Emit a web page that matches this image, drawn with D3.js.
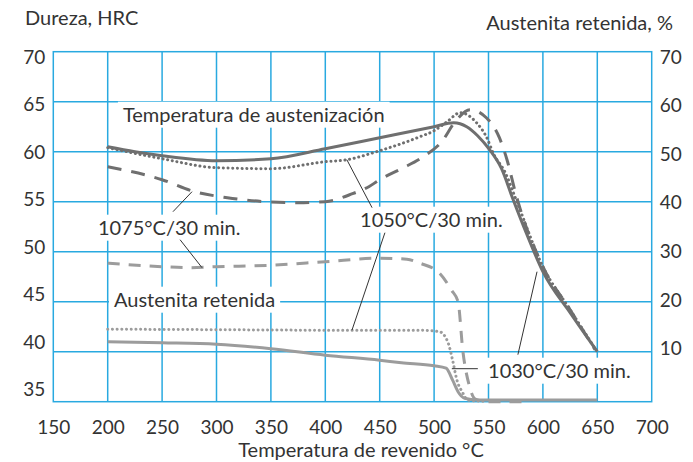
<!DOCTYPE html>
<html>
<head>
<meta charset="utf-8">
<script src="https://cdn.jsdelivr.net/npm/d3@7"></script>
<style>
  body { margin: 0; background: #fff; }
  text { font-family: Lato, "Open Sans", sans-serif; fill: #333; }
</style>
</head>
<body>
<svg id="chart" width="693" height="462"></svg>
<script>
// ticks
var xTicks = [150, 200, 250, 300, 350, 400, 450, 500, 550, 600, 650, 700];
var hrcTicks = [35, 40, 45, 50, 55, 60, 65, 70];
var raTicks = [10, 20, 30, 40, 50, 60, 70];

// hardness (HRC) vs tempering temperature, one list per austenitizing temp
var hrc1030 = [[200,60.5],[225,60.0],[250,59.6],[300,59.1],[350,59.3],[400,60.3],[450,61.4],[500,62.5],[518,62.9],[530,62.5],[540,61.6],[551,60.2],[562,58.3],[572,55.4],[585,51.8],[600,48.0],[625,43.9],[650,40.0]];
var hrc1050 = [[200,60.4],[250,59.3],[300,58.4],[350,58.3],[400,59.0],[420,59.2],[447,60.0],[487,61.5],[500,62.1],[512,63.0],[524,63.9],[539,62.9],[548,61.5],[555,59.7],[565,58.0],[575,55.3],[600,48.5],[625,44.2],[648,40.3]];
var hrc1075 = [[200,58.5],[250,57.2],[280,56.0],[310,55.4],[345,55.0],[375,54.9],[400,55.0],[425,55.8],[440,56.5],[450,57.2],[470,58.3],[490,59.5],[507,61.0],[520,63.1],[533,64.2],[548,63.4],[560,61.4],[567,59.2],[575,55.8],[600,48.5],[625,44.2],[648,40.2]];

// retained austenite (%)
var ra1030 = [[200,12.0],[250,11.8],[300,11.5],[350,10.6],[400,9.3],[450,8.3],[470,7.8],[500,7.2],[511,6.7],[517,4.3],[522,2.0],[528,0.7],[540,0.35],[650,0.35]];
var ra1050 = [[200,14.5],[300,14.4],[400,14.3],[487,14.3],[505,14.0],[513,11.7],[517,8.3],[521,4.3],[526,1.9],[531,0.3],[545,0.1]];
var ra1075 = [[200,27.7],[250,27.0],[275,26.8],[300,27.0],[350,27.3],[400,28.0],[450,28.7],[475,28.5],[487,27.7],[505,25.7],[516,22.3],[522,20.0],[526.5,10.0],[532,3.5],[538,0.5],[550,0.0],[585,0.0]];

var svg = d3.select('#chart');
var pLeft = 53.3, pRight = 651.7, pTop = 51.7, pBottom = 401.7;

var x = d3.scaleLinear().domain([150, 700]).range([pLeft, pRight]);
var yL = d3.scaleLinear().domain([35, 70]).range([pBottom, pTop]);
var yR = d3.scaleLinear().domain([0, 70]).range([pBottom, pTop]);
// the printed tick labels are not quite on the grid lines
var yLabL = d3.scaleLinear().domain([35, 70]).range([389.5, 57]);
var yLabR = d3.scaleLinear().domain([10, 70]).range([348.5, 57]);

var blue = '#29a9e0';
var font = 'Lato, "Open Sans", sans-serif';

// grid
var grid = svg.append('g');
grid.selectAll('line.v').data(xTicks.slice(1, -1)).enter().append('line')
    .attr('x1', function(d) { return x(d); }).attr('x2', function(d) { return x(d); })
    .attr('y1', pTop).attr('y2', pBottom)
    .attr('stroke', blue).attr('stroke-width', 1.5);
grid.selectAll('line.h').data(hrcTicks.slice(1, -1)).enter().append('line')
    .attr('y1', function(d) { return yL(d); }).attr('y2', function(d) { return yL(d); })
    .attr('x1', pLeft).attr('x2', pRight)
    .attr('stroke', blue).attr('stroke-width', 1.5);
grid.append('rect')
    .attr('x', pLeft).attr('y', pTop).attr('width', pRight - pLeft).attr('height', pBottom - pTop)
    .attr('fill', 'none').attr('stroke', blue).attr('stroke-width', 1.5);

// axes (labels only)
var axL = svg.append('g').attr('transform', 'translate(' + pLeft + ',0)')
    .call(d3.axisLeft(yLabL).tickValues(hrcTicks).tickSize(0).tickPadding(8));
var axR = svg.append('g').attr('transform', 'translate(' + pRight + ',0)')
    .call(d3.axisRight(yLabR).tickValues(raTicks).tickSize(0).tickPadding(8));
var axB = svg.append('g').attr('transform', 'translate(0,' + pBottom + ')')
    .call(d3.axisBottom(x).tickValues(xTicks).tickSize(0).tickPadding(19));
[axL, axR, axB].forEach(function(a) {
    a.select('.domain').remove();
    a.selectAll('text').style('font-size', '19px').attr('fill', '#333')
        .style('font-family', font);
});

// labels with white boxes
var labels = [
    {t: 'Temperatura de austenización', x: 214, y: 63.0},
    {t: '1075°C/30 min.', x: 191, y: 51.7},
    {t: '1050°C/30 min.', x: 432, y: 52.5},
    {t: '1030°C/30 min.', x: 549.6, y: 37.4},
    {t: 'Austenita retenida', x: 205.8, y: 44.5}
];
var boxG = svg.append('g');
var curves = svg.append('g');
var lineG = svg.append('g');
var textG = svg.append('g');
labels.forEach(function(l) {
    var t = textG.append('text')
        .attr('x', x(l.x)).attr('y', yL(l.y))
        .style('font-size', '20px')
        .text(l.t);
    var b = t.node().getBBox();
    boxG.append('rect')
        .attr('x', b.x - 5).attr('y', b.y)
        .attr('width', b.width + 10).attr('height', b.height + 2)
        .attr('fill', '#fff');
});

// leader lines
var leaders = [
    [[260, 54.0, 'L'], [277.5, 56.0, 'L']],
    [[266.5, 51.2, 'L'], [286.7, 26.8, 'R']],
    [[419.8, 59.2, 'L'], [443, 54.4, 'L']],
    [[454.8, 51.9, 'L'], [424.5, 14.3, 'R']],
    [[577, 39.7, 'L'], [594.6, 48.0, 'L']],
    [[516.3, 38.3, 'L'], [540.2, 38.3, 'L']]
];
function py(p) { return p[2] === 'R' ? yR(p[1]) : yL(p[1]); }
leaders.forEach(function(s) {
    lineG.append('line')
        .attr('x1', x(s[0][0])).attr('y1', py(s[0]))
        .attr('x2', x(s[1][0])).attr('y2', py(s[1]))
        .attr('stroke', '#333').attr('stroke-width', 1);
});

// curves
var lineL = d3.line().x(function(d) { return x(d[0]); }).y(function(d) { return yL(d[1]); }).curve(d3.curveMonotoneX);
var lineR = d3.line().x(function(d) { return x(d[0]); }).y(function(d) { return yR(d[1]); }).curve(d3.curveMonotoneX);

function draw(data, gen, color, dash, cap) {
    curves.append('path')
        .attr('d', gen(data))
        .attr('fill', 'none')
        .attr('stroke', color)
        .attr('stroke-width', 3)
        .attr('stroke-dasharray', dash)
        .attr('stroke-linecap', cap || 'butt');
}
var dark = '#6f6f6f', light = '#9c9c9c';
draw(ra1075, lineR, light, '12 9');
draw(ra1050, lineR, light, '0.1 4.6', 'round');
draw(ra1030, lineR, light, null);
draw(hrc1075, lineL, dark, '14 10');
draw(hrc1050, lineL, dark, '0.1 4.6', 'round');
draw(hrc1030, lineL, dark, null);

// axis titles
svg.append('text').attr('x', 25).attr('y', 25).style('font-size', '20px').text('Dureza, HRC');
svg.append('text').attr('x', 673).attr('y', 30).attr('text-anchor', 'end').style('font-size', '20px').text('Austenita retenida, %');
svg.append('text').attr('x', 361).attr('y', 457).attr('text-anchor', 'middle').style('font-size', '20px').text('Temperatura de revenido °C');
</script>
</body>
</html>
